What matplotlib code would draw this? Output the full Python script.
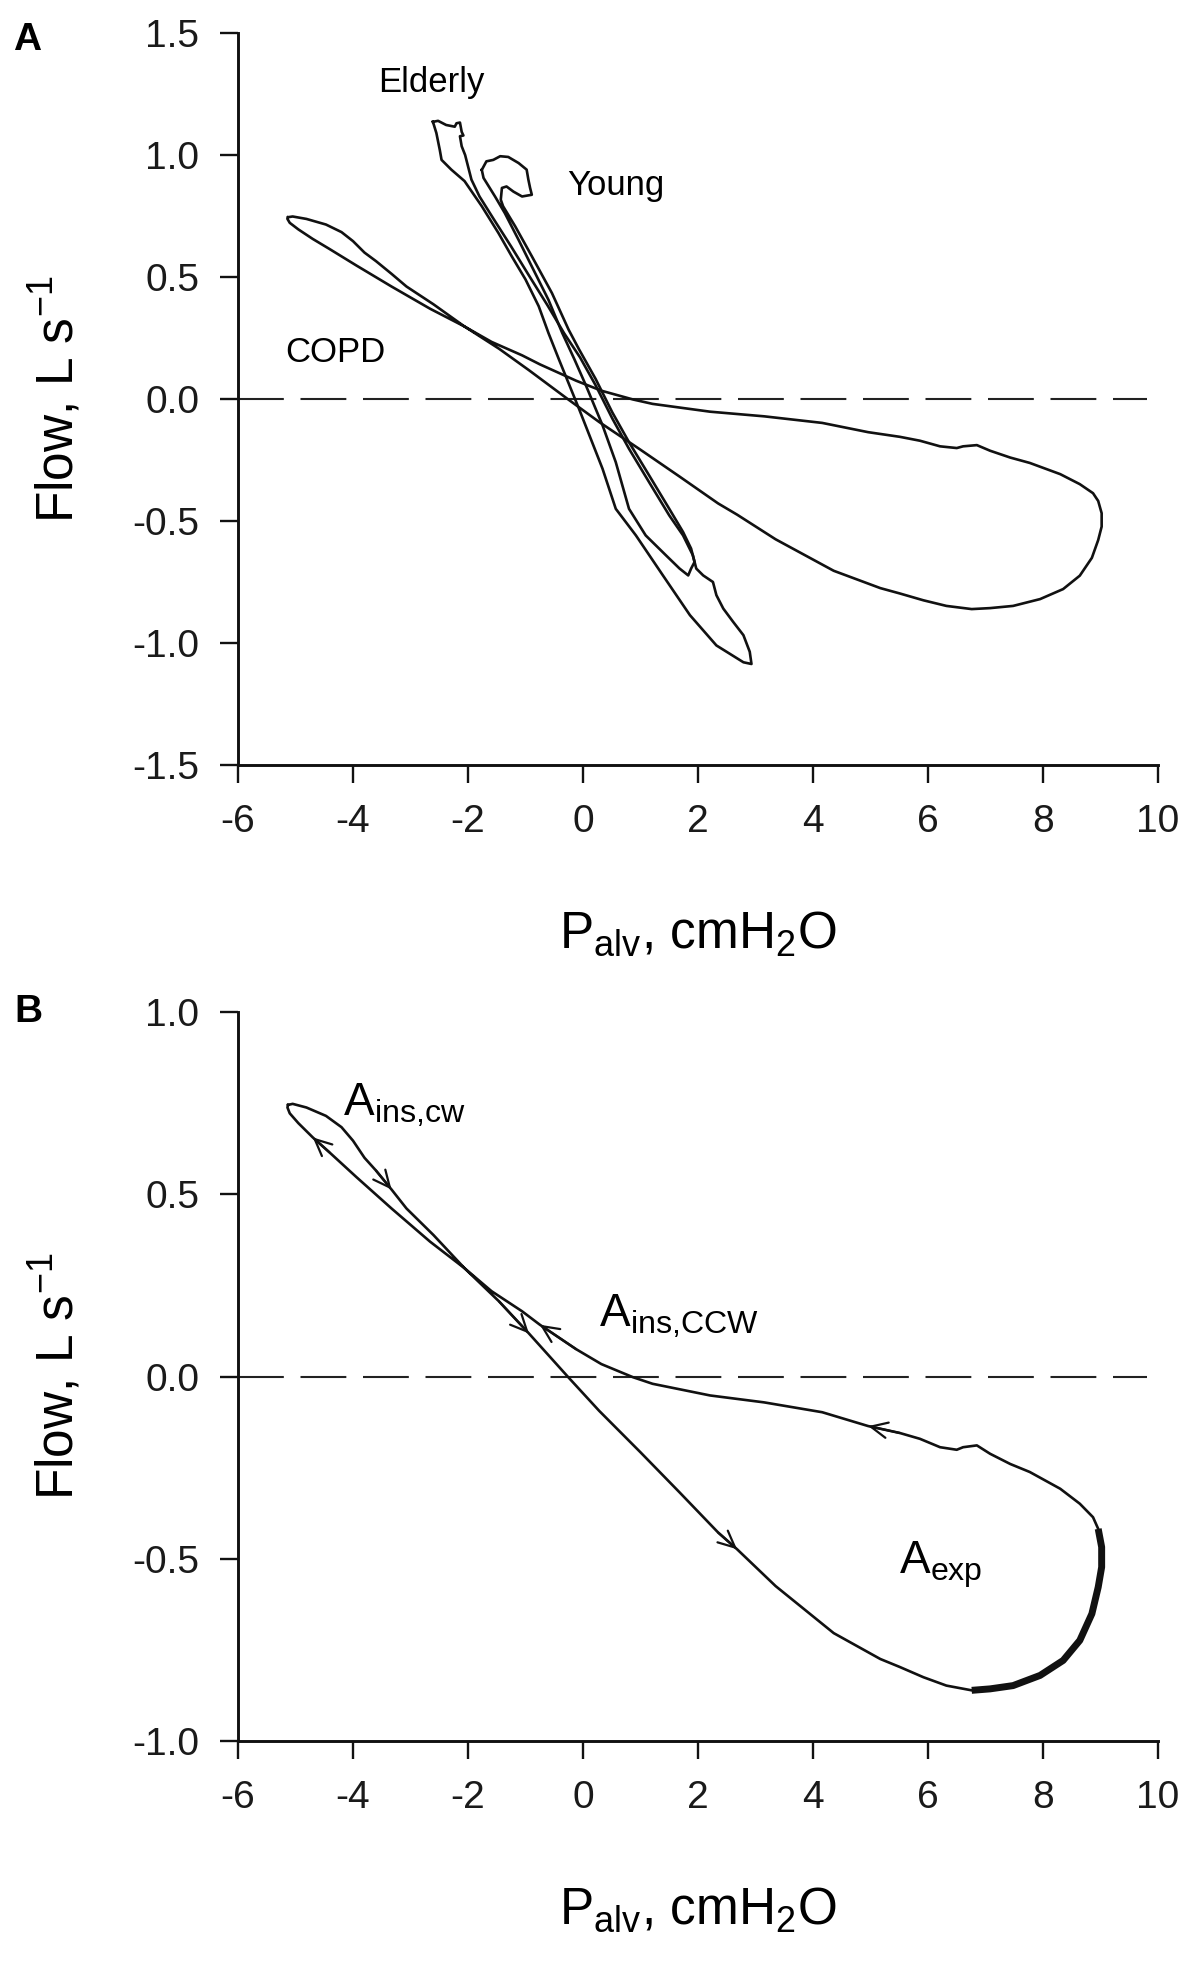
import matplotlib
matplotlib.use('Agg')
import matplotlib.pyplot as plt
from matplotlib.ticker import FormatStrFormatter, MultipleLocator

plt.rcParams['font.family'] = ['Liberation Sans', 'DejaVu Sans']
plt.rcParams['mathtext.fontset'] = 'custom'
plt.rcParams['mathtext.rm'] = 'Liberation Sans'
plt.rcParams['mathtext.it'] = 'Liberation Sans:italic'
plt.rcParams['mathtext.bf'] = 'Liberation Sans:bold'
plt.rcParams['axes.unicode_minus'] = False

# COPD loop, path order follows the arrows in panel B
copd_p = [-5.13, -5.05, -4.81, -4.47, -4.20, -4.00, -3.80, -3.60, -3.33, -3.07,
          -2.60, -2.06, -1.46, -0.94, -0.25, 0.28, 1.00, 1.68, 2.35, 2.68,
          3.35, 4.36, 5.17, 5.51, 5.92, 6.32, 6.76, 7.08, 7.48, 7.95,
          8.35, 8.64, 8.85, 8.96, 9.02, 9.02, 8.96, 8.87, 8.64, 8.30,
          7.77, 7.43, 7.08, 6.85, 6.61, 6.50, 6.21, 5.86, 5.51, 4.96,
          4.16, 3.15, 2.21, 1.21, 0.87, 0.32, -0.12, -0.75, -1.06, -1.59,
          -2.06, -2.66, -3.33, -3.94, -4.41, -4.70, -4.95, -5.10, -5.14, -5.13]
copd_f = [0.745, 0.748, 0.738, 0.715, 0.684, 0.647, 0.600, 0.565, 0.513, 0.461,
          0.388, 0.297, 0.206, 0.118, -0.003, -0.094, -0.208, -0.318, -0.428, -0.474,
          -0.575, -0.704, -0.775, -0.797, -0.825, -0.848, -0.861, -0.857, -0.848, -0.820,
          -0.779, -0.724, -0.651, -0.578, -0.523, -0.468, -0.418, -0.386, -0.349, -0.308,
          -0.262, -0.240, -0.212, -0.189, -0.194, -0.201, -0.194, -0.171, -0.155, -0.136,
          -0.098, -0.071, -0.052, -0.020, -0.002, 0.034, 0.075, 0.142, 0.179, 0.234,
          0.297, 0.370, 0.461, 0.547, 0.615, 0.656, 0.695, 0.722, 0.738, 0.745]
copd_arrows = [8, 13, 19, 49, 57, 65]   # points where direction arrows sit
copd_thick = (26, 36)                     # highlighted part of the expiratory limb

elderly_p = [-2.61, -2.52, -2.38, -2.23, -2.20, -2.14, -2.11, -2.08, -2.14, -2.11,
             -2.05, -2.00, -1.94, -1.80, -1.55, -1.25, -0.95, -0.62, -0.33, -0.05,
             0.22, 0.51, 0.80, 1.15, 1.50, 1.74, 1.91, 1.97, 2.09, 2.26,
             2.32, 2.44, 2.61, 2.79, 2.90, 2.93, 2.79, 2.32, 1.86, 1.39,
             0.92, 0.57, 0.34, -0.07, -0.42, -0.60, -0.77, -1.00, -1.24, -1.47,
             -1.76, -2.06, -2.29, -2.46, -2.49, -2.55, -2.61]
elderly_f = [1.136, 1.140, 1.123, 1.116, 1.130, 1.133, 1.095, 1.080, 1.077, 1.036,
             1.000, 0.954, 0.899, 0.830, 0.736, 0.625, 0.510, 0.385, 0.270, 0.170,
             0.056, -0.080, -0.204, -0.341, -0.477, -0.559, -0.640, -0.695, -0.723, -0.750,
             -0.804, -0.859, -0.913, -0.968, -1.036, -1.086, -1.079, -1.010, -0.886, -0.723,
             -0.559, -0.450, -0.286, -0.040, 0.163, 0.270, 0.380, 0.490, 0.585, 0.680,
             0.790, 0.893, 0.940, 0.980, 1.020, 1.090, 1.136]

young_p = [-1.76, -1.68, -1.56, -1.44, -1.30, -1.12, -0.98, -0.95, -0.92, -0.89,
           -1.06, -1.21, -1.33, -1.41, -1.43, -1.39, -1.18, -0.89, -0.54, -0.25,
           -0.07, 0.22, 0.51, 0.80, 1.15, 1.50, 1.74, 1.88, 1.94, 1.88,
           1.83, 1.68, 1.44, 1.09, 0.80, 0.57, 0.34, 0.05, -0.15, -0.36,
           -0.60, -0.89, -1.12, -1.36, -1.53, -1.73, -1.76]
young_f = [0.939, 0.974, 0.980, 0.995, 0.992, 0.967, 0.940, 0.899, 0.865, 0.837,
           0.830, 0.850, 0.871, 0.865, 0.817, 0.790, 0.708, 0.585, 0.434, 0.284,
           0.204, 0.082, -0.055, -0.177, -0.313, -0.450, -0.545, -0.613, -0.668, -0.695,
           -0.723, -0.695, -0.640, -0.559, -0.450, -0.259, -0.108, 0.056, 0.163, 0.270,
           0.406, 0.543, 0.652, 0.762, 0.830, 0.906, 0.939]

x_ticks = [-6, -4, -2, 0, 2, 4, 6, 8, 10]

W, H = 1200, 1967
fig = plt.figure(figsize=(W / 100, H / 100), dpi=100)


def px_axes(left, top, right, bottom):
    return fig.add_axes([left / W, 1 - bottom / H, (right - left) / W, (bottom - top) / H])


ax_a = px_axes(238, 33, 1158, 765)
ax_b = px_axes(238, 1012, 1158, 1741)

line_kw = dict(color='#111111', lw=1.9, solid_joinstyle='round')

for ax, ylim in [(ax_a, (-1.5, 1.5)), (ax_b, (-1.0, 1.0))]:
    ax.set_xlim(-6, 10)
    ax.set_ylim(*ylim)
    ax.set_xticks(x_ticks)
    ax.yaxis.set_major_locator(MultipleLocator(0.5))
    ax.yaxis.set_major_formatter(FormatStrFormatter('%.1f'))
    for s in ['top', 'right']:
        ax.spines[s].set_visible(False)
    for s in ['left', 'bottom']:
        ax.spines[s].set_linewidth(2.1)
        ax.spines[s].set_color('#111111')
    ax.tick_params(direction='out', length=13, width=1.7, labelsize=28, pad=15,
                   color='#111111', labelcolor='#1a1a1a')
    ax.hlines(0, -6, 9.8, colors='#222222', lw=1.5, linestyles=(0, (22, 8)))
    ax.set_xlabel(r'P$_\mathrm{alv}$, cmH$_\mathrm{2}$O', fontsize=37, va='baseline')
    ax.xaxis.set_label_coords(0.5, -0.25)
    ax.set_ylabel(r'Flow, L s$^\mathrm{-1}$', fontsize=37, va='baseline')
    ax.yaxis.set_label_coords(-0.179, 0.5)

# panel A: three loops
ax_a.plot(copd_p, copd_f, **line_kw)
ax_a.plot(elderly_p, elderly_f, **line_kw)
ax_a.plot(young_p, young_f, **line_kw)
ax_a.text(-3.56, 1.26, 'Elderly', fontsize=25, va='baseline')
ax_a.text(-0.28, 0.838, 'Young', fontsize=25, va='baseline')
ax_a.text(-5.17, 0.151, 'COPD', fontsize=25, va='baseline')

# panel B: COPD loop with directions and areas
ax_b.plot(copd_p, copd_f, **line_kw)
i0, i1 = copd_thick
ax_b.plot(copd_p[i0:i1 + 1], copd_f[i0:i1 + 1], color='#111111', lw=5.0,
          solid_capstyle='butt', solid_joinstyle='round')
for i in copd_arrows:
    ax_b.annotate('', xy=(copd_p[i], copd_f[i]), xytext=(copd_p[i - 1], copd_f[i - 1]),
                  arrowprops=dict(arrowstyle='->,head_length=0.6,head_width=0.28',
                                  mutation_scale=20, lw=1.6, color='#111111',
                                  shrinkA=0, shrinkB=0))
ax_b.text(-4.17, 0.717, r'A$_\mathrm{ins{,}cw}$', fontsize=33, va='baseline')
ax_b.text(0.28, 0.137, r'A$_\mathrm{ins{,}CCW}$', fontsize=33, va='baseline')
ax_b.text(5.49, -0.54, r'A$_\mathrm{exp}$', fontsize=33, va='baseline')

fig.text(13 / W, 1 - 50 / H, 'A', fontsize=28, fontweight='bold', va='baseline')
fig.text(14 / W, 1 - 1022 / H, 'B', fontsize=28, fontweight='bold', va='baseline')

fig.savefig('out.png', dpi=100, facecolor='white')
